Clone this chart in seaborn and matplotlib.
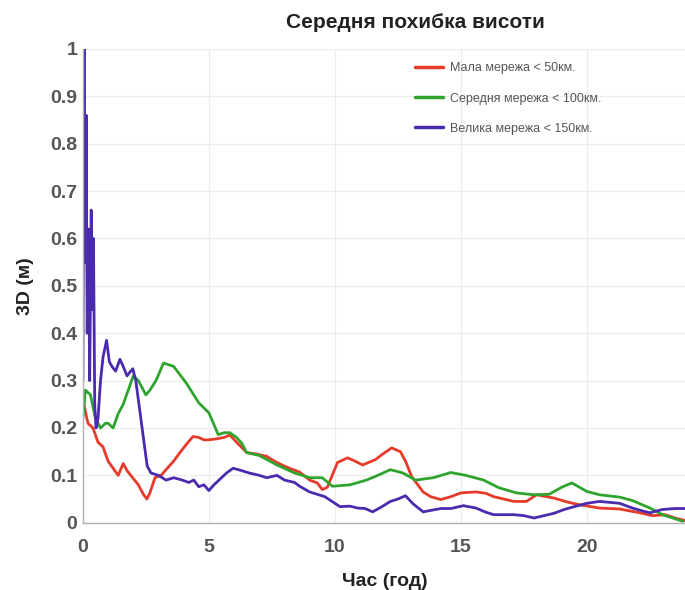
import numpy as np
import pandas as pd
import matplotlib
matplotlib.use("Agg")
import matplotlib.pyplot as plt
import seaborn as sns

# ---------------- data ----------------
series_names = ["Мала мережа < 50км.", "Середня мережа < 100км.", "Велика мережа < 150км."]
series_colors = ["#e63b2b", "#2ea42e", "#4a2bb0"]

red_t = [0, 0.2, 0.4, 0.6, 0.8, 1.0, 1.2, 1.4, 1.6, 1.75, 1.9, 2.2, 2.4, 2.54, 2.66, 2.86,
         3.1, 3.3, 3.6, 3.85, 4.1, 4.37, 4.6, 4.8, 5.0, 5.3, 5.6, 5.83, 6.1, 6.5, 6.9, 7.3,
         7.6, 7.9, 8.2, 8.6, 9.0, 9.3, 9.5, 9.7, 10.1, 10.5, 10.8, 11.1, 11.6, 11.9, 12.25,
         12.6, 12.8, 13.05, 13.5, 13.8, 14.2, 14.6, 15.0, 15.6, 16.0, 16.3, 16.7, 17.1, 17.6,
         18.0, 18.4, 18.7, 19.2, 19.7, 20.5, 21.3, 22.1, 22.6, 23.1, 23.5, 24.0]
red_v = [0.26, 0.21, 0.2, 0.17, 0.16, 0.13, 0.115, 0.1, 0.125, 0.11, 0.1, 0.08, 0.06, 0.05,
         0.063, 0.095, 0.1, 0.112, 0.13, 0.148, 0.165, 0.182, 0.18, 0.175, 0.175, 0.177, 0.18,
         0.185, 0.17, 0.148, 0.145, 0.14, 0.13, 0.122, 0.115, 0.107, 0.09, 0.084, 0.07, 0.075,
         0.127, 0.137, 0.13, 0.122, 0.133, 0.145, 0.158, 0.15, 0.13, 0.097, 0.065, 0.055, 0.049,
         0.055, 0.063, 0.065, 0.062, 0.055, 0.05, 0.045, 0.045, 0.059, 0.055, 0.052, 0.044,
         0.038, 0.031, 0.029, 0.021, 0.015, 0.017, 0.01, 0.003]

green_t = [0, 0.1, 0.3, 0.5, 0.7, 0.9, 1.0, 1.2, 1.4, 1.6, 1.8, 2.0, 2.2, 2.5, 2.66, 2.9,
           3.2, 3.6, 4.1, 4.6, 5.0, 5.37, 5.6, 5.83, 6.1, 6.3, 6.5, 7.0, 7.7, 8.4, 9.0, 9.5,
           9.9, 10.6, 11.25, 11.7, 12.2, 12.7, 13.2, 13.9, 14.6, 15.2, 15.9, 16.5, 17.2, 17.9,
           18.5, 19.0, 19.4, 20.0, 20.5, 21.3, 21.8, 22.5, 23.0, 23.8]
green_v = [0.22, 0.28, 0.27, 0.22, 0.2, 0.21, 0.21, 0.2, 0.23, 0.25, 0.28, 0.31, 0.3, 0.27,
           0.28, 0.3, 0.337, 0.33, 0.295, 0.253, 0.232, 0.186, 0.19, 0.19, 0.18, 0.168, 0.148,
           0.142, 0.122, 0.105, 0.095, 0.095, 0.077, 0.08, 0.09, 0.1, 0.112, 0.105, 0.09, 0.095,
           0.106, 0.1, 0.09, 0.074, 0.063, 0.059, 0.06, 0.075, 0.084, 0.066, 0.059, 0.054,
           0.047, 0.031, 0.017, 0.003]

blue_t = [0.0, 0.05, 0.1, 0.13, 0.17, 0.22, 0.27, 0.33, 0.38, 0.42, 0.47, 0.52, 0.6, 0.7,
          0.8, 0.94, 1.05, 1.15, 1.3, 1.47, 1.6, 1.75, 1.9, 1.98, 2.1, 2.25, 2.4, 2.55, 2.7,
          3.0, 3.3, 3.6, 3.95, 4.2, 4.4, 4.6, 4.8, 5.0, 5.2, 5.4, 5.7, 5.96, 6.3, 6.6, 7.0,
          7.3, 7.7, 8.0, 8.4, 8.6, 9.0, 9.3, 9.6, 10.2, 10.6, 10.9, 11.2, 11.5, 11.9, 12.2,
          12.5, 12.8, 13.1, 13.5, 14.2, 14.6, 15.1, 15.6, 16.0, 16.3, 17.1, 17.5, 17.9, 18.3,
          18.7, 19.1, 19.5, 20.0, 20.5, 20.9, 21.3, 21.8, 22.2, 22.5, 23.0, 23.5, 24.0]
blue_v = [0.3, 1.0, 0.55, 0.86, 0.4, 0.62, 0.3, 0.66, 0.45, 0.6, 0.25, 0.2, 0.22, 0.3,
          0.35, 0.385, 0.34, 0.33, 0.32, 0.345, 0.33, 0.31, 0.32, 0.325, 0.3, 0.24, 0.18,
          0.12, 0.105, 0.1, 0.09, 0.095, 0.09, 0.085, 0.09, 0.076, 0.08, 0.068, 0.08, 0.09,
          0.105, 0.115, 0.11, 0.105, 0.1, 0.095, 0.1, 0.09, 0.085, 0.077, 0.065, 0.06, 0.055,
          0.034, 0.035, 0.031, 0.03, 0.023, 0.035, 0.045, 0.05, 0.057, 0.04, 0.023, 0.03, 0.03,
          0.036, 0.031, 0.022, 0.017, 0.017, 0.015, 0.01, 0.015, 0.02, 0.028, 0.034, 0.041,
          0.045, 0.043, 0.041, 0.031, 0.025, 0.021, 0.028, 0.03, 0.03]

x_ticks = [0, 5, 10, 15, 20]
y_ticks = [0, 0.1, 0.2, 0.3, 0.4, 0.5, 0.6, 0.7, 0.8, 0.9, 1]
y_tick_labels = ["0", "0.1", "0.2", "0.3", "0.4", "0.5", "0.6", "0.7", "0.8", "0.9", "1"]

title_text = "Середня похибка висоти"
x_label = "Час (год)"
y_label = "3D (м)"

# ---------------- build table ----------------
frames = []
for name, t, v in zip(series_names, [red_t, green_t, blue_t], [red_v, green_v, blue_v]):
    frames.append(pd.DataFrame({"t": t, "v": v, "series": name}))
df = pd.concat(frames, ignore_index=True)

# ---------------- style ----------------
sns.set_theme(style="whitegrid")
plt.rcParams["font.family"] = ["Liberation Sans", "DejaVu Sans"]

fig = plt.figure(figsize=(6.85, 5.9), dpi=100)
ax = fig.add_axes([0.121, 0.114, 0.883, 0.803])

sns.lineplot(data=df, x="t", y="v", hue="series", hue_order=series_names,
             palette=dict(zip(series_names, series_colors)), sort=False,
             estimator=None, linewidth=2.0, ax=ax)

ax.set_xlim(0, 24)
ax.set_ylim(0, 1)
ax.set_xticks(x_ticks)
ax.set_xticklabels([str(x) for x in x_ticks])
ax.set_yticks(y_ticks)
ax.set_yticklabels(y_tick_labels)

ax.grid(True, color="#ececec", linewidth=0.8)
ax.set_facecolor("white")
for s in ["top", "right"]:
    ax.spines[s].set_visible(False)
for s in ["left", "bottom"]:
    ax.spines[s].set_visible(True)
    ax.spines[s].set_color("#b0b0b0")
    ax.spines[s].set_linewidth(1.0)

ax.tick_params(axis="both", labelsize=14, colors="#555555", length=3, direction="in")
ax.tick_params(axis="x", pad=12)
ax.tick_params(axis="y", pad=4)
for lab in ax.get_xticklabels() + ax.get_yticklabels():
    lab.set_fontweight("semibold")

ax.set_xlabel(x_label, fontsize=14, fontweight="bold", color="#222222", labelpad=12)
ax.set_ylabel(y_label, fontsize=14, fontweight="bold", color="#222222", labelpad=12)
ax.set_title(title_text, fontsize=15, fontweight="bold", color="#222222", x=0.55, pad=15)

leg = ax.legend(loc="upper left", bbox_to_anchor=(0.535, 0.99), frameon=False,
                fontsize=9, labelcolor="#555555", handlelength=2.2, labelspacing=1.45,
                borderpad=0.2, handletextpad=0.6)
for line in leg.get_lines():
    line.set_linewidth(2.5)

fig.savefig("out.png", dpi=100, facecolor="white")
